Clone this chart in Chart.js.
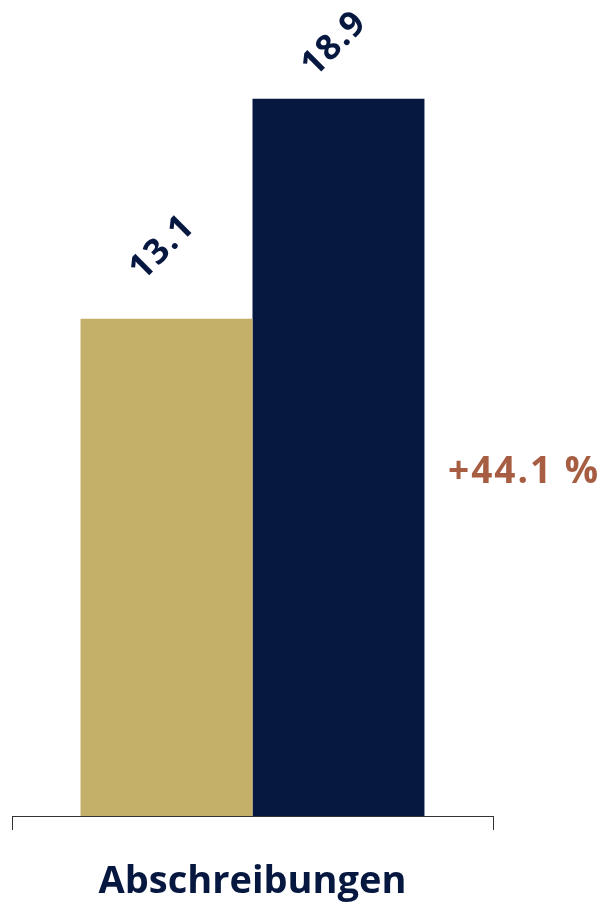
<!DOCTYPE html>
<html>
<head>
<meta charset="utf-8">
<script src="https://cdn.jsdelivr.net/npm/chart.js@4/dist/chart.umd.min.js"></script>
<style>
  html, body { margin: 0; padding: 0; background: #fff; }
  #wrap { width: 605px; height: 904px; }
</style>
</head>
<body>
<div id="wrap"><canvas id="chart"></canvas></div>
<script>
const categories = ['Abschreibungen']
const valuesPrev = [13.1]
const valuesCurr = [18.9]
const changeLabel = '+44.1 %'

const navy = '#061840'
const gold = '#C4B068'
const brown = '#A65D42'

// value labels rotated above each bar, plus the change annotation on the right
const labelPlugin = {
  id: 'barLabels',
  afterDatasetsDraw: function (chart) {
    const ctx = chart.ctx
    ctx.save()
    ctx.fillStyle = navy
    ctx.font = 'bold 35px "Open Sans"'
    ctx.letterSpacing = '1.5px'
    ctx.textAlign = 'center'
    ctx.textBaseline = 'middle'
    chart.data.datasets.forEach(function (ds, i) {
      const meta = chart.getDatasetMeta(i)
      meta.data.forEach(function (bar, j) {
        const y = Math.max(bar.y - 71, 44)
        ctx.save()
        ctx.translate(bar.x - 4, y)
        ctx.rotate(-Math.PI / 4)
        ctx.fillText(ds.data[j].toFixed(1), 0, 0)
        ctx.restore()
      })
    })
    ctx.fillStyle = brown
    ctx.font = 'bold 37px "Open Sans"'
    ctx.letterSpacing = '2px'
    ctx.textAlign = 'left'
    ctx.fillText(changeLabel, chart.chartArea.right - 45, 472)
    ctx.restore()
  }
}

new Chart(document.getElementById('chart'), {
  type: 'bar',
  data: {
    labels: categories,
    datasets: [
      { data: valuesPrev, backgroundColor: gold },
      { data: valuesCurr, backgroundColor: navy }
    ]
  },
  options: {
    responsive: true,
    maintainAspectRatio: false,
    animation: false,
    layout: { padding: { left: 12, right: 112, top: 0, bottom: -30 } },
    categoryPercentage: 0.715,
    barPercentage: 1.0,
    plugins: { legend: { display: false }, tooltip: { enabled: false } },
    scales: {
      x: {
        offset: true,
        grid: { drawOnChartArea: false, tickLength: 14, color: '#333', offset: true },
        border: { color: '#333', width: 1 },
        ticks: { color: navy, padding: 32, font: { family: 'Open Sans', size: 38, weight: 'bold', lineHeight: '40px' } }
      },
      y: {
        display: false,
        min: 0,
        max: 21.5
      }
    }
  },
  plugins: [labelPlugin]
})
</script>
</body>
</html>
